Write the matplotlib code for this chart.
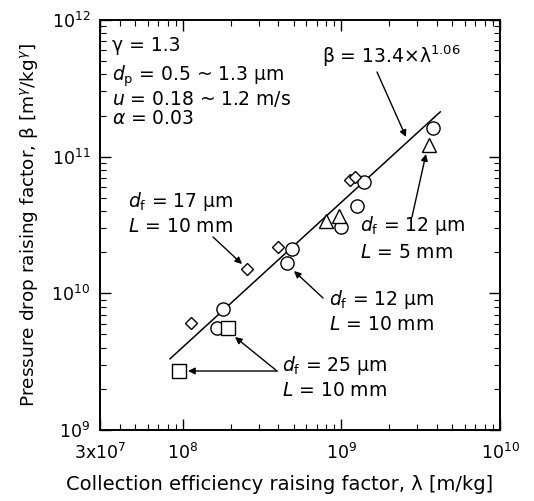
import numpy as np
import matplotlib
matplotlib.use('Agg')
import matplotlib.pyplot as plt
from matplotlib.ticker import FixedLocator, LogLocator, NullFormatter

plt.rcParams['font.family'] = ['DejaVu Sans']
plt.rcParams['mathtext.fontset'] = 'dejavusans'

# measured points: lambda [m/kg], beta [m^g/kg^g]
circle_lam = [1.80e8, 1.63e8, 4.85e8, 4.51e8, 1.39e9, 1.25e9, 1.00e9, 3.80e9]
circle_beta = [7.7e9, 5.56e9, 2.11e10, 1.66e10, 6.56e10, 4.38e10, 3.08e10, 1.61e11]
square_lam = [1.93e8, 9.5e7]
square_beta = [5.56e9, 2.71e9]
diamond_lam = [1.12e8, 2.53e8, 4.0e8, 1.13e9, 1.22e9]
diamond_beta = [6.04e9, 1.5e10, 2.2e10, 6.76e10, 7.14e10]
triangle_lam = [3.57e9, 8.02e8, 9.66e8]
triangle_beta = [1.22e11, 3.37e10, 3.68e10]

# correlation beta = 13.4 * lambda^1.06
fit_coef = 13.4
fit_exp = 1.06
fit_lam = np.array([8.3e7, 4.2e9])
fit_beta = fit_coef * fit_lam ** fit_exp

xticks = [3e7, 1e8, 1e9, 1e10]
xticklabels = ['3x10$^7$', '10$^8$', '10$^9$', '10$^{10}$']
yticks = [1e9, 1e10, 1e11, 1e12]
yticklabels = ['10$^9$', '10$^{10}$', '10$^{11}$', '10$^{12}$']

fig = plt.figure(figsize=(5.34, 5.01), dpi=100)
ax = fig.add_axes([0.1873, 0.1417, 0.749, 0.8184])
ax.set_xscale('log')
ax.set_yscale('log')
ax.set_xlim(3e7, 1e10)
ax.set_ylim(1e9, 1e12)

ax.plot(fit_lam, fit_beta, color='black', lw=1.1, zorder=2)

mk = dict(linestyle='none', markerfacecolor='white', markeredgecolor='black',
          markeredgewidth=1.0, zorder=3)
ax.plot(circle_lam, circle_beta, marker='o', markersize=9.5, **mk)
ax.plot(square_lam, square_beta, marker='s', markersize=9.5, **mk)
ax.plot(diamond_lam, diamond_beta, marker='D', markersize=6, **mk)
ax.plot(triangle_lam, triangle_beta, marker='^', markersize=10.5, **mk)

# axis ticks
ax.xaxis.set_major_locator(FixedLocator(xticks))
ax.set_xticklabels(xticklabels)
ax.yaxis.set_major_locator(FixedLocator(yticks))
ax.set_yticklabels(yticklabels)
ax.xaxis.set_minor_locator(LogLocator(base=10, subs=np.arange(2, 10), numticks=20))
ax.yaxis.set_minor_locator(LogLocator(base=10, subs=np.arange(2, 10), numticks=20))
ax.xaxis.set_minor_formatter(NullFormatter())
ax.yaxis.set_minor_formatter(NullFormatter())
ax.tick_params(which='both', direction='in', top=True, right=True, colors='black')
ax.tick_params(which='major', length=8, width=1.0, labelsize=12.5)
ax.tick_params(which='minor', length=4, width=0.8)
ax.tick_params(axis='x', which='major', pad=9)
ax.tick_params(axis='y', which='major', pad=7)
for s in ax.spines.values():
    s.set_linewidth(1.4)

ax.set_xlabel('Collection efficiency raising factor, λ [m/kg]', fontsize=14, labelpad=9)
ax.xaxis.label.set_x(0.45)
ax.set_ylabel(r'Pressure drop raising factor, β [m$^{\gamma}$/kg$^{\gamma}$]', fontsize=13.3, labelpad=8)

# condition block
tk = dict(transform=ax.transAxes, fontsize=13.5, ha='left', va='center')
def ax_xy(px, py):
    return ((px - 100) / 400.0, (430 - py) / 410.0)

ax.text(*ax_xy(112, 46), 'γ = 1.3', **tk)
ax.text(*ax_xy(112, 76), r'$d_\mathrm{p}$ = 0.5 ~ 1.3 μm', **tk)
ax.text(*ax_xy(112, 99), r'$u$ = 0.18 ~ 1.2 m/s', **tk)
ax.text(*ax_xy(112, 119), r'$\alpha$ = 0.03', **tk)

ax.text(*ax_xy(322, 56), r'β = 13.4×λ$^{1.06}$', **tk)
ax.text(*ax_xy(128, 202), r'$d_\mathrm{f}$ = 17 μm', **tk)
ax.text(*ax_xy(128, 227), r'$L$ = 10 mm', **tk)
ax.text(*ax_xy(360, 226), r'$d_\mathrm{f}$ = 12 μm', **tk)
ax.text(*ax_xy(360, 252), r'$L$ = 5 mm', **tk)
ax.text(*ax_xy(329, 299), r'$d_\mathrm{f}$ = 12 μm', **tk)
ax.text(*ax_xy(329, 324), r'$L$ = 10 mm', **tk)
ax.text(*ax_xy(282, 365), r'$d_\mathrm{f}$ = 25 μm', **tk)
ax.text(*ax_xy(282, 390), r'$L$ = 10 mm', **tk)

# pointer arrows
arrows = [
    ((377, 72), (406, 137)),
    ((213, 237), (242, 264)),
    ((412, 217), (426, 154)),
    ((323, 298), (294, 271)),
    ((277, 371), (188, 371)),
    ((277, 371), (235, 337)),
]
for (x0, y0), (x1, y1) in arrows:
    ax.annotate('', xy=ax_xy(x1, y1), xycoords='axes fraction',
                xytext=ax_xy(x0, y0), textcoords='axes fraction',
                arrowprops=dict(arrowstyle='-|>', color='black', lw=1.0,
                                mutation_scale=10, shrinkA=0, shrinkB=0))

fig.savefig('out.png', dpi=100)
